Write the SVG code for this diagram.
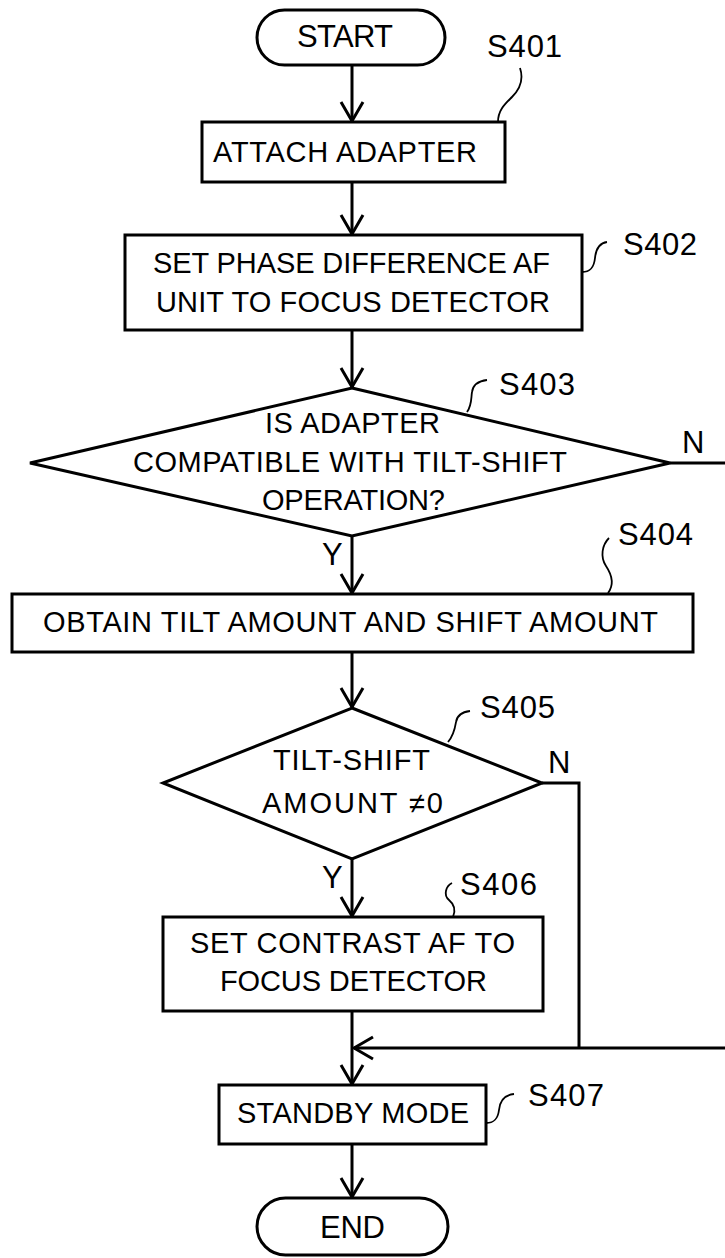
<svg xmlns="http://www.w3.org/2000/svg" width="725" height="1258" viewBox="0 0 725 1258">
<style>
.shape{fill:#fff;stroke:#000;stroke-width:3}
.t{font-family:"Liberation Sans",Arial,sans-serif;font-size:29px;fill:#000;text-anchor:middle}
.big{font-size:31px}
.lbl{font-family:"Liberation Sans",Arial,sans-serif;font-size:31px;fill:#000}
.yn{font-family:"Liberation Sans",Arial,sans-serif;font-size:31px;fill:#000}
.lead{fill:none;stroke:#000;stroke-width:1.8}
.conn{fill:none;stroke:#000;stroke-width:3}
</style>
<defs>
<marker id="arr" viewBox="-22 -14 24 28" refX="0" refY="0" markerWidth="24" markerHeight="28" markerUnits="userSpaceOnUse" orient="auto">
<path d="M-19,-11 L0,0 L-19,11" fill="none" stroke="#000" stroke-width="3"/>
</marker>
</defs>
<rect width="725" height="1258" fill="#fff"/>
<g id="connectors">
<line class="conn" x1="352" y1="65" x2="352" y2="121" marker-end="url(#arr)"/>
<line class="conn" x1="352" y1="182" x2="352" y2="234" marker-end="url(#arr)"/>
<line class="conn" x1="352" y1="330" x2="352" y2="387" marker-end="url(#arr)"/>
<line class="conn" x1="352" y1="536" x2="352" y2="593" marker-end="url(#arr)"/>
<line class="conn" x1="352" y1="652" x2="352" y2="707" marker-end="url(#arr)"/>
<line class="conn" x1="352" y1="859" x2="352" y2="916" marker-end="url(#arr)"/>
<line class="conn" x1="352" y1="1011" x2="352" y2="1084" marker-end="url(#arr)"/>
<line class="conn" x1="352" y1="1144" x2="352" y2="1197" marker-end="url(#arr)"/>
<polyline class="conn" points="670,463 728,463 728,1048 354,1048" marker-end="url(#arr)"/>
<polyline class="conn" points="542,783 579,783 579,1048"/>
<text class="yn" x="682" y="453">N</text>
<text class="yn" x="548" y="773">N</text>
<text class="yn" x="322" y="565">Y</text>
<text class="yn" x="322" y="888">Y</text>
</g>
<g id="start">
<rect class="shape" x="257" y="10" width="188" height="55" rx="27.5"/>
<text class="t big" x="345" y="47" textLength="96" lengthAdjust="spacing">START</text>
</g>
<g id="s401">
<rect class="shape" x="202" y="122" width="303" height="60"/>
<text class="t" x="345" y="162" textLength="264" lengthAdjust="spacing">ATTACH ADAPTER</text>
<path class="lead" d="M498,122 C498,110 505,104 512,97 C520,89 524,80 520,68"/>
<text class="lbl" x="487" y="57" textLength="75" lengthAdjust="spacing">S401</text>
</g>
<g id="s402">
<rect class="shape" x="125" y="235" width="457" height="95"/>
<text class="t" x="351.5" y="273" textLength="397" lengthAdjust="spacing">SET PHASE DIFFERENCE AF</text>
<text class="t" x="353" y="312" textLength="394" lengthAdjust="spacing">UNIT TO FOCUS DETECTOR</text>
<path class="lead" d="M582,272 C590,272 594,268 595,258 C596,248 600,243 607,242"/>
<text class="lbl" x="623" y="255" textLength="74" lengthAdjust="spacing">S402</text>
</g>
<g id="s403">
<polygon class="shape" points="352,388 670,463 352,536 30,463"/>
<text class="t" x="352.5" y="433" textLength="175" lengthAdjust="spacing">IS ADAPTER</text>
<text class="t" x="350" y="472" textLength="434" lengthAdjust="spacing">COMPATIBLE WITH TILT-SHIFT</text>
<text class="t" x="353.5" y="510" textLength="183" lengthAdjust="spacing">OPERATION?</text>
<path class="lead" d="M467,412 C472,405 471,398 472,392 C473,385 478,381 487,380"/>
<text class="lbl" x="499" y="395" textLength="76" lengthAdjust="spacing">S403</text>
</g>
<g id="s404">
<rect class="shape" x="12" y="594" width="681" height="58"/>
<text class="t" x="350.5" y="632" textLength="615" lengthAdjust="spacing">OBTAIN TILT AMOUNT AND SHIFT AMOUNT</text>
<path class="lead" d="M608,593 C614,585 612,575 606,566 C600,557 602,545 609,538"/>
<text class="lbl" x="618" y="545" textLength="75" lengthAdjust="spacing">S404</text>
</g>
<g id="s405">
<polygon class="shape" points="352,708 542,783 352,859 163,783"/>
<text class="t" x="351.5" y="770" textLength="157" lengthAdjust="spacing">TILT-SHIFT</text>
<text class="t" x="352.5" y="813" textLength="181" lengthAdjust="spacing">AMOUNT ≠0</text>
<path class="lead" d="M448,742 C454,735 455,728 456,722 C457,715 462,712 470,711"/>
<text class="lbl" x="480" y="718" textLength="75" lengthAdjust="spacing">S405</text>
</g>
<g id="s406">
<rect class="shape" x="163" y="917" width="380" height="94"/>
<text class="t" x="352.5" y="953" textLength="325" lengthAdjust="spacing">SET CONTRAST AF TO</text>
<text class="t" x="353.5" y="991" textLength="267" lengthAdjust="spacing">FOCUS DETECTOR</text>
<path class="lead" d="M453,917 C456,910 455,905 449,900 C443,895 446,886 452,883"/>
<text class="lbl" x="460" y="895" textLength="77" lengthAdjust="spacing">S406</text>
</g>
<g id="s407">
<rect class="shape" x="219" y="1085" width="267" height="59"/>
<text class="t" x="353" y="1123" textLength="232" lengthAdjust="spacing">STANDBY MODE</text>
<path class="lead" d="M486,1123 C495,1123 498,1118 499,1110 C500,1100 505,1095 514,1094"/>
<text class="lbl" x="528" y="1106" textLength="76" lengthAdjust="spacing">S407</text>
</g>
<g id="end">
<rect class="shape" x="257" y="1198" width="191" height="57" rx="28.5"/>
<text class="t big" x="352.5" y="1238" textLength="65" lengthAdjust="spacing">END</text>
</g>
</svg>
